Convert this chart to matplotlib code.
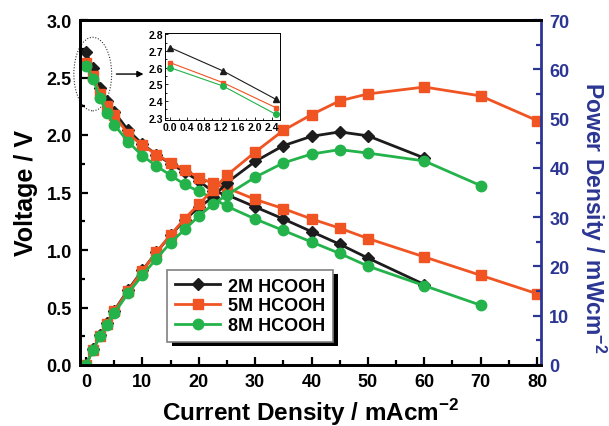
import matplotlib
matplotlib.use("Agg")
from matplotlib import pyplot as plt
from matplotlib.patches import Ellipse, Rectangle
from matplotlib.transforms import IdentityTransform
from matplotlib.ticker import MultipleLocator, FormatStrFormatter
import numpy as np

plt.rcParams['font.family'] = ['Liberation Sans', 'DejaVu Sans']
plt.rcParams['font.weight'] = 'bold'
plt.rcParams['mathtext.fontset'] = 'custom'
plt.rcParams['mathtext.rm'] = 'Liberation Sans:bold'
plt.rcParams['mathtext.bf'] = 'Liberation Sans:bold'

# current density, mA/cm2
current = [0, 1.25, 2.5, 3.75, 5, 7.5, 10, 12.5, 15, 17.5, 20, 22.5, 25,
           30, 35, 40, 45, 50, 60, 70, 80]

# cell voltage, V
volt_2m = [2.72, 2.58, 2.41, 2.30, 2.20, 2.04, 1.92, 1.83, 1.75, 1.68, 1.60,
           1.51, 1.48, 1.375, 1.27, 1.16, 1.05, 0.93, 0.70]
volt_5m = [2.63, 2.51, 2.36, 2.25, 2.17, 2.01, 1.91, 1.83, 1.76, 1.70, 1.63,
           1.58, 1.54, 1.44, 1.36, 1.27, 1.19, 1.10, 0.94, 0.78, 0.62]
volt_8m = [2.60, 2.49, 2.32, 2.19, 2.09, 1.94, 1.82, 1.73, 1.65, 1.57, 1.51,
           1.45, 1.38, 1.27, 1.17, 1.07, 0.97, 0.86, 0.69, 0.52]

# power density, mW/cm2
pow_2m = [0, 3.2, 6.0, 8.6, 11.0, 15.3, 19.2, 22.9, 26.3, 29.4, 32.0, 34.0,
          37.0, 41.3, 44.5, 46.4, 47.3, 46.5, 42.0]
pow_5m = [0, 3.1, 5.9, 8.4, 10.9, 15.1, 19.1, 22.9, 26.4, 29.7, 32.6, 35.5,
          38.5, 43.2, 47.6, 50.8, 53.6, 55.0, 56.4, 54.6, 49.6]
pow_8m = [0, 3.1, 5.8, 8.2, 10.5, 14.6, 18.2, 21.6, 24.8, 27.5, 30.2, 32.6,
          34.5, 38.1, 41.0, 42.8, 43.7, 43.0, 41.4, 36.4]

# open circuit region shown in the inset
inset_x = [0, 1.25, 2.5]
inset_2m = [2.72, 2.58, 2.41]
inset_5m = [2.63, 2.51, 2.36]
inset_8m = [2.60, 2.49, 2.32]

labels = ['2M HCOOH', '5M HCOOH', '8M HCOOH']
colors = ['#1c1c1c', '#f05423', '#24b24b']
markers = ['D', 's', 'o']
msizes = [6, 6.5, 7.5]
blue = '#2b3593'

fig = plt.figure(figsize=(6.09, 4.27), dpi=100)
ax = fig.add_axes([80 / 609, 61 / 427, 461 / 609, 345 / 427])
ax2 = ax.twinx()

volts = [volt_2m, volt_5m, volt_8m]
powers = [pow_2m, pow_5m, pow_8m]
handles = []
for v, p, c, m, ms, lab in zip(volts, powers, colors, markers, msizes, labels):
    h, = ax.plot(current[:len(v)], v, color=c, marker=m, ms=ms, lw=2,
                 label=lab)
    ax2.plot(current[:len(p)], p, color=c, marker=m, ms=ms, lw=2)
    handles.append(h)

ax.set_xlim(-1.06, 80.7)
ax.set_ylim(0, 3)
ax2.set_ylim(0, 70)

ax.xaxis.set_major_locator(MultipleLocator(10))
ax.xaxis.set_minor_locator(MultipleLocator(5))
ax.yaxis.set_major_locator(MultipleLocator(0.5))
ax.yaxis.set_minor_locator(MultipleLocator(0.25))
ax2.yaxis.set_major_locator(MultipleLocator(10))
ax2.yaxis.set_minor_locator(MultipleLocator(5))
ax.yaxis.set_major_formatter(FormatStrFormatter('%.1f'))

ax.tick_params(axis='both', which='both', direction='in', width=1.6,
               labelsize=13, top=False, pad=6)
ax.tick_params(which='major', length=6)
ax.tick_params(which='minor', length=3.5)
ax2.tick_params(axis='y', which='both', direction='in', width=1.6,
                colors=blue, labelsize=13, pad=6)
ax2.tick_params(which='major', length=6)
ax2.tick_params(which='minor', length=3.5)

for s in ['left', 'bottom', 'top']:
    ax.spines[s].set_linewidth(2)
    ax2.spines[s].set_linewidth(2)
ax2.spines['right'].set_linewidth(2)
ax2.spines['right'].set_color(blue)
ax.spines['right'].set_visible(False)

ax.set_xlabel(r'Current Density / mAcm$^{\mathregular{-2}}$', fontsize=17.5,
              fontweight='bold', labelpad=4)
ax.set_ylabel('Voltage / V', fontsize=18, fontweight='bold', labelpad=6)
# right-hand axis title, reading top to bottom
fig.text(593 / 609, 1 - 218 / 427,
         r'Power Density / mWcm$^{\mathregular{-2}}$', fontsize=16.5,
         fontweight='bold', color=blue, rotation=270,
         ha='center', va='center')

leg = ax2.legend(handles=handles, loc='lower left',
                 bbox_to_anchor=(0.189, 0.066), borderaxespad=0,
                 fontsize=13, handlelength=2.5, handletextpad=0.4,
                 labelspacing=0.15, borderpad=0.45,
                 fancybox=False, edgecolor='#808080', framealpha=1)
leg.get_frame().set_linewidth(1.2)

# solid black drop shadow under the legend box
fig.canvas.draw()
bb = leg.get_frame().get_window_extent()
shadow = Rectangle((bb.x0 + 5, bb.y0 - 4), bb.width, bb.height,
                   transform=IdentityTransform(), facecolor='black',
                   edgecolor='none', zorder=leg.get_zorder() - 0.1,
                   clip_on=False)
ax2.add_artist(shadow)

# dotted ring around the open-circuit points and arrow to the inset
ring = Ellipse((1.2, 2.53), 6.7, 0.64, fill=False, ls=(0, (1, 1.5)),
               lw=0.8, color='#333333', clip_on=False)
ax.add_patch(ring)
ax.annotate('', xy=(10.2, 2.53), xytext=(5.4, 2.53),
            arrowprops=dict(arrowstyle='-|>', color='black', lw=1,
                            mutation_scale=9, shrinkA=0, shrinkB=0))

ins = fig.add_axes([165 / 609, 1 - 120.5 / 427, 114.5 / 609, 87 / 427])
ins.set_zorder(5)
ins.plot(inset_x, inset_2m, color=colors[0], marker='^', ms=4, lw=0.8)
ins.plot(inset_x, inset_5m, color=colors[1], marker='s', ms=3.5, lw=0.8)
ins.plot(inset_x, inset_8m, color=colors[2], marker='o', ms=4, lw=0.8)
ins.set_xlim(-0.12, 2.58)
ins.set_ylim(2.29, 2.81)
ins.set_xticks(np.arange(0, 2.5, 0.4))
ins.set_yticks(np.arange(2.3, 2.85, 0.1))
ins.xaxis.set_minor_locator(MultipleLocator(0.2))
ins.yaxis.set_minor_locator(MultipleLocator(0.05))
ins.xaxis.set_major_formatter(FormatStrFormatter('%.1f'))
ins.yaxis.set_major_formatter(FormatStrFormatter('%.1f'))
ins.tick_params(axis='both', which='both', direction='in', labelsize=7.5,
                width=0.6, pad=1.5)
ins.tick_params(which='major', length=2.5)
ins.tick_params(which='minor', length=1.5)
for s in ins.spines.values():
    s.set_linewidth(0.7)

fig.savefig('out.png', dpi=100)
